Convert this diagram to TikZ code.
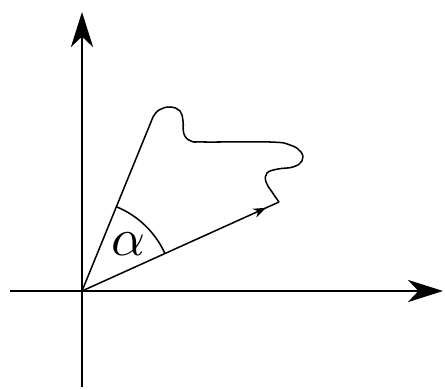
\documentclass[tikz,border=0pt]{standalone}
\usetikzlibrary{arrows.meta,decorations.markings}
\tikzset{
    asse/.style={line width=1.2pt,-{Stealth[length=30pt,width=19pt,inset=9pt]}},
    linea/.style={line width=1.3pt},
    vettore/.style={line width=1.3pt,decoration={markings,mark=at position 0.935 with {\arrow{Stealth[length=11pt,width=8pt]}}},postaction={decorate}}
}
\begin{document}
\begin{tikzpicture}[x=0.03cm,y=0.03cm]
        \useasboundingbox (0,0) rectangle (445,389);
        %punti
        \coordinate (O) at (82,98);
        \coordinate (xs) at (10,98);
        \coordinate (xe) at (443,98);
        \coordinate (ys) at (82,2);
        \coordinate (ye) at (82,377);
        \coordinate (P) at (153,272);
        \coordinate (E) at (279,187);
        %disegno asse x
        \draw[asse] (xs)-- (xe);
        %disegno asse y
        \draw[asse] (ys)-- (ye);
        %lato e vettore
        \draw[linea] (O)-- (P);
        \draw[vettore] (O)-- (E);
        %curva
        \draw[linea] plot[smooth,tension=0.7] coordinates {(P) (159,279) (170,282) (180,278) (183,268) (184,255) (191,248) (205,247) (270,247) (290,244) (301,237) (302,228) (293,222) (278,220) (267,216) (266,207) (272,197) (E)};
        %angolo
        \draw[linea] ([shift={(24.3:91)}]O) arc[start angle=24.3,end angle=67.8,radius=91];
        %label
        \node[scale=4.5] (alfa) at (128,145) {$\alpha$};
    \end{tikzpicture}
\end{document}
